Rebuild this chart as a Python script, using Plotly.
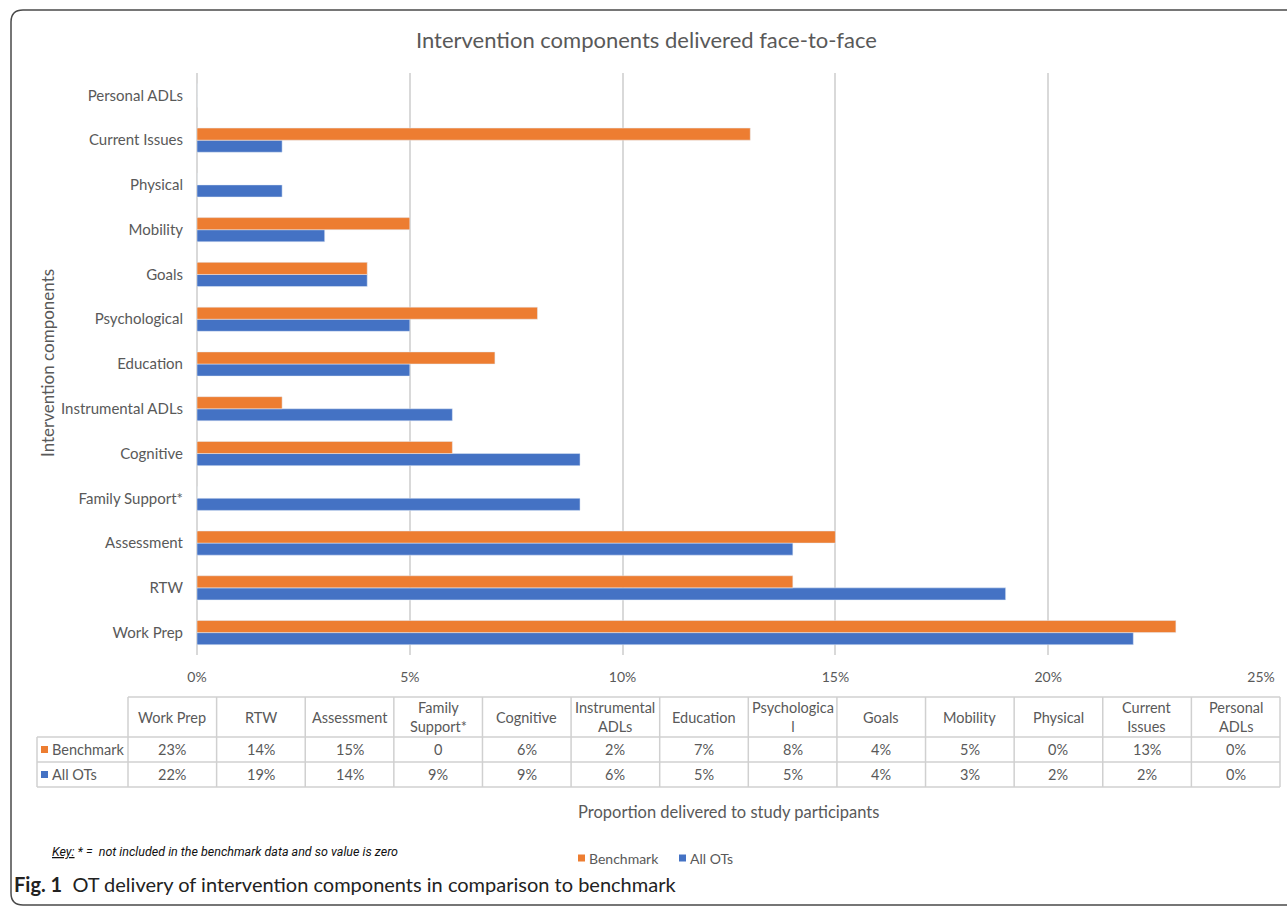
import plotly.graph_objects as go

# ---------------- data ----------------
categories = ["Work Prep", "RTW", "Assessment", "Family Support*", "Cognitive",
              "Instrumental ADLs", "Education", "Psychological", "Goals", "Mobility",
              "Physical", "Current Issues", "Personal ADLs"]
table_headers = ["Work Prep", "RTW", "Assessment", "Family<br>Support*", "Cognitive",
                 "Instrumental<br>ADLs", "Education", "Psychologica<br>l", "Goals", "Mobility",
                 "Physical", "Current<br>Issues", "Personal<br>ADLs"]
benchmark = [23, 14, 15, 0, 6, 2, 7, 8, 4, 5, 0, 13, 0]
all_ots = [22, 19, 14, 9, 9, 6, 5, 5, 4, 3, 2, 2, 0]
not_in_benchmark = ["Family Support*"]
x_ticks = [0, 5, 10, 15, 20, 25]

title = "Intervention components delivered face-to-face"
y_title = "Intervention components"
x_title = "Proportion delivered to study participants"
key_text = "<i><u>Key:</u> * =  not included in the benchmark data and so value is zero</i>"
caption = "<b>Fig. 1</b>  OT delivery of intervention components in comparison to benchmark"

# ---------------- layout constants ----------------
W, H = 1287, 908
L, R, T, B = 197, 1261, 73, 655
ORANGE = "#ED7D31"
BLUE = "#4472C4"
GRAY = "#595959"
GRID = "#D9D9D9"
FONT = "Lato"


def px(p):
    return (p - L) / (R - L)


def py(p):
    return (B - p) / (B - T)


fig = go.Figure()
fig.add_trace(go.Bar(y=categories, x=all_ots, orientation="h", name="All OTs",
                     marker_color=BLUE, showlegend=False))
fig.add_trace(go.Bar(y=categories, x=benchmark, orientation="h", name="Benchmark",
                     marker_color=ORANGE, showlegend=False))

shapes = []
annotations = []

# frame with rounded corners
r = 12
x0, x1, y0, y1 = 11, 1300, 10, 905
path = (f"M {px(x0)},{py(y0 + r)} Q {px(x0)},{py(y0)} {px(x0 + r)},{py(y0)} "
        f"L {px(x1)},{py(y0)} L {px(x1)},{py(y1)} L {px(x0 + r)},{py(y1)} "
        f"Q {px(x0)},{py(y1)} {px(x0)},{py(y1 - r)} Z")
shapes.append(dict(type="path", xref="paper", yref="paper", path=path,
                   line=dict(color="#4a4a4a", width=1.5), layer="above"))

# data table
n = len(categories)
tl, tr = 128, 1280
cw = (tr - tl) / n
rows_y = [697, 737, 762, 787]
label_left = 37
tcol = "#D0D0D0"
shapes.append(dict(type="line", xref="paper", yref="paper", x0=px(tl), x1=px(tr),
                   y0=py(rows_y[0]), y1=py(rows_y[0]), line=dict(color=tcol, width=1.5)))
for yy in rows_y[1:]:
    shapes.append(dict(type="line", xref="paper", yref="paper", x0=px(label_left), x1=px(tr),
                       y0=py(yy), y1=py(yy), line=dict(color=tcol, width=1.5)))
for i in range(n + 1):
    xx = tl + i * cw
    shapes.append(dict(type="line", xref="paper", yref="paper", x0=px(xx), x1=px(xx),
                       y0=py(rows_y[0]), y1=py(rows_y[3]), line=dict(color=tcol, width=1.5)))
shapes.append(dict(type="line", xref="paper", yref="paper", x0=px(label_left), x1=px(label_left),
                   y0=py(rows_y[1]), y1=py(rows_y[3]), line=dict(color=tcol, width=1.5)))

tfont = dict(family=FONT, size=14.5, color=GRAY)
for i, cat in enumerate(categories):
    cx = px(tl + (i + 0.5) * cw)
    annotations.append(dict(x=cx, y=py((rows_y[0] + rows_y[1]) / 2), xref="paper", yref="paper",
                            text=table_headers[i], showarrow=False, font=tfont,
                            xanchor="center", yanchor="middle"))
    btxt = "0" if cat in not_in_benchmark else f"{benchmark[i]}%"
    annotations.append(dict(x=cx, y=py((rows_y[1] + rows_y[2]) / 2), xref="paper", yref="paper",
                            text=btxt, showarrow=False, font=tfont,
                            xanchor="center", yanchor="middle"))
    annotations.append(dict(x=cx, y=py((rows_y[2] + rows_y[3]) / 2), xref="paper", yref="paper",
                            text=f"{all_ots[i]}%", showarrow=False, font=tfont,
                            xanchor="center", yanchor="middle"))

# table row headers with keys
for (name, col, ry0, ry1) in [("Benchmark", ORANGE, rows_y[1], rows_y[2]),
                              ("All OTs", BLUE, rows_y[2], rows_y[3])]:
    cy = (ry0 + ry1) / 2
    shapes.append(dict(type="rect", xref="paper", yref="paper", x0=px(41), x1=px(48),
                       y0=py(cy - 3.5), y1=py(cy + 3.5), fillcolor=col, line=dict(width=0)))
    annotations.append(dict(x=px(50), y=py(cy), xref="paper", yref="paper", text=name,
                            showarrow=False, font=tfont, xanchor="left", yanchor="middle"))

# bottom legend
for (name, col, lx) in [("Benchmark", ORANGE, 578), ("All OTs", BLUE, 679)]:
    cy = 858
    shapes.append(dict(type="rect", xref="paper", yref="paper", x0=px(lx), x1=px(lx + 7),
                       y0=py(cy - 3.5), y1=py(cy + 3.5), fillcolor=col, line=dict(width=0)))
    annotations.append(dict(x=px(lx + 9), y=py(cy), xref="paper", yref="paper", text=name,
                            showarrow=False, font=dict(family=FONT, size=14, color=GRAY),
                            xanchor="left", yanchor="middle"))

# titles
annotations.append(dict(x=px(646), y=py(40), xref="paper", yref="paper", text=title,
                        showarrow=False, font=dict(family=FONT, size=22, color=GRAY),
                        xanchor="center", yanchor="middle"))
annotations.append(dict(x=px(47), y=py(363), xref="paper", yref="paper", text=y_title,
                        showarrow=False, textangle=-90,
                        font=dict(family=FONT, size=17, color=GRAY),
                        xanchor="center", yanchor="middle"))
annotations.append(dict(x=px(728), y=py(812), xref="paper", yref="paper", text=x_title,
                        showarrow=False, font=dict(family=FONT, size=16.5, color=GRAY),
                        xanchor="center", yanchor="middle"))
annotations.append(dict(x=px(50), y=py(851), xref="paper", yref="paper", text=key_text,
                        showarrow=False,
                        font=dict(family="Liberation Sans Narrow, Roboto", size=12.5, color="#111111"),
                        xanchor="left", yanchor="middle"))
annotations.append(dict(x=px(12), y=py(884), xref="paper", yref="paper", text=caption,
                        showarrow=False, font=dict(family="Lato", size=20, color="#222222"),
                        xanchor="left", yanchor="middle"))

fig.update_layout(
    width=W, height=H,
    margin=dict(l=L, r=W - R, t=T, b=H - B, pad=0),
    paper_bgcolor="white", plot_bgcolor="white",
    barmode="group", bargap=0.46, bargroupgap=0,
    shapes=shapes, annotations=annotations,
    font=dict(family=FONT, color=GRAY),
    xaxis=dict(range=[0, 25], tickvals=x_ticks, ticktext=[f"{v}%" for v in x_ticks],
               showgrid=True, gridcolor=GRID, gridwidth=2, zeroline=True,
               zerolinecolor=GRID, zerolinewidth=2, showline=False,
               tickfont=dict(family=FONT, size=14, color=GRAY), ticklabelstandoff=12,
               fixedrange=True),
    yaxis=dict(categoryorder="array", categoryarray=categories, showgrid=False,
               tickfont=dict(family=FONT, size=15, color=GRAY), ticklabelstandoff=13,
               showline=False, fixedrange=True),
)

fig.write_html("out.html", config={"displayModeBar": False})
